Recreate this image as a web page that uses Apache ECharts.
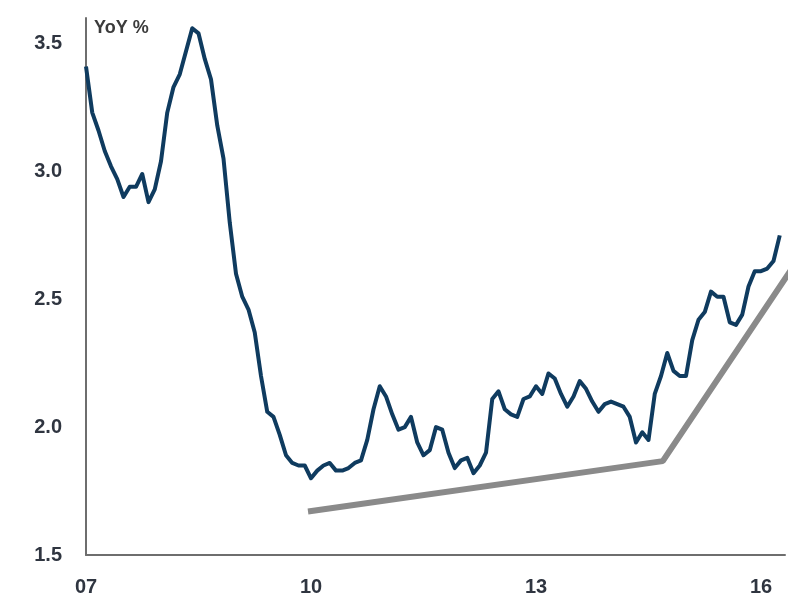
<!DOCTYPE html>
<html>
<head>
<meta charset="utf-8">
<script src="https://cdn.jsdelivr.net/npm/echarts@6/dist/echarts.min.js"></script>
<style>
  html, body { margin: 0; padding: 0; background: #fff; }
  #chart { width: 797px; height: 597px; }
</style>
</head>
<body>
<div id="chart"></div>
<script>
// monthly YoY %, Jan 2007 onwards
var startYear = 2007;
var yoyValues = [
  3.41, 3.23, 3.16, 3.08, 3.02, 2.97, 2.90, 2.94, 2.94, 2.99, 2.88, 2.93,
  3.04, 3.23, 3.33, 3.38, 3.47, 3.56, 3.54, 3.44, 3.36, 3.18, 3.05, 2.80,
  2.60, 2.51, 2.46, 2.37, 2.20, 2.06, 2.04, 1.97, 1.89, 1.86, 1.85, 1.85,
  1.80, 1.83, 1.85, 1.86, 1.83, 1.83, 1.84, 1.86, 1.87, 1.95, 2.07, 2.16,
  2.12, 2.05, 1.99, 2.00, 2.04, 1.94, 1.89, 1.91, 2.00, 1.99, 1.90, 1.84,
  1.87, 1.88, 1.82, 1.85, 1.90, 2.11, 2.14, 2.07, 2.05, 2.04, 2.11, 2.12,
  2.16, 2.13, 2.21, 2.19, 2.13, 2.08, 2.12, 2.18, 2.15, 2.10, 2.06, 2.09,
  2.10, 2.09, 2.08, 2.04, 1.94, 1.98, 1.95, 2.13, 2.20, 2.29, 2.22, 2.20,
  2.20, 2.34, 2.42, 2.45, 2.53, 2.51, 2.51, 2.41, 2.40, 2.44, 2.55, 2.61,
  2.61, 2.62, 2.65, 2.75
];
// trend line drawn over the series (year, %)
var trendYears = [2009.96, 2014.69, 2016.48];
var trendValues = [1.67, 1.867, 2.65];
var yTicks = { min: 1.5, max: 3.6, interval: 0.5 };
var xTicks = { min: 2007, max: 2016.32, interval: 3 };

(function() {
  var chart = echarts.init(document.getElementById('chart'));

  var yoyData = yoyValues.map(function(v, i) {
    return [startYear + i / 12, v];
  });
  var trendData = trendYears.map(function(x, i) {
    return [x, trendValues[i]];
  });

  chart.setOption({
    animation: false,
    backgroundColor: '#fff',
    title: {
      text: 'YoY %',
      left: 89,
      top: 14,
      textStyle: {
        fontFamily: 'Liberation Sans',
        fontSize: 18,
        fontWeight: 'bold',
        color: '#3b3b3b'
      }
    },
    grid: { left: 86, right: 12, top: 18, bottom: 41 },
    xAxis: {
      type: 'value',
      min: xTicks.min,
      max: xTicks.max,
      interval: xTicks.interval,
      splitLine: { show: false },
      axisTick: { show: false },
      axisLine: { lineStyle: { color: '#6e6e6e', width: 2 } },
      axisLabel: {
        margin: 22,
        fontFamily: 'Liberation Sans',
        fontSize: 20,
        fontWeight: 'bold',
        color: '#2f3540',
        showMaxLabel: false,
        formatter: function(v) { return String(v).slice(2); }
      }
    },
    yAxis: {
      type: 'value',
      min: yTicks.min,
      max: yTicks.max,
      interval: yTicks.interval,
      splitLine: { show: false },
      axisTick: { show: false },
      axisLine: { show: true, lineStyle: { color: '#6e6e6e', width: 2 } },
      axisLabel: {
        margin: 24,
        fontFamily: 'Liberation Sans',
        fontSize: 20,
        fontWeight: 'bold',
        color: '#2f3540',
        showMaxLabel: false,
        formatter: function(v) { return v.toFixed(1); }
      }
    },
    series: [
      {
        type: 'line',
        data: yoyData,
        symbol: 'none',
        lineStyle: { color: '#0f3b5f', width: 4, join: 'round' },
        z: 3
      },
      {
        type: 'line',
        data: trendData,
        symbol: 'none',
        clip: false,
        lineStyle: { color: '#8a8a8a', width: 6 },
        z: 2
      }
    ]
  });
})();
</script>
</body>
</html>
